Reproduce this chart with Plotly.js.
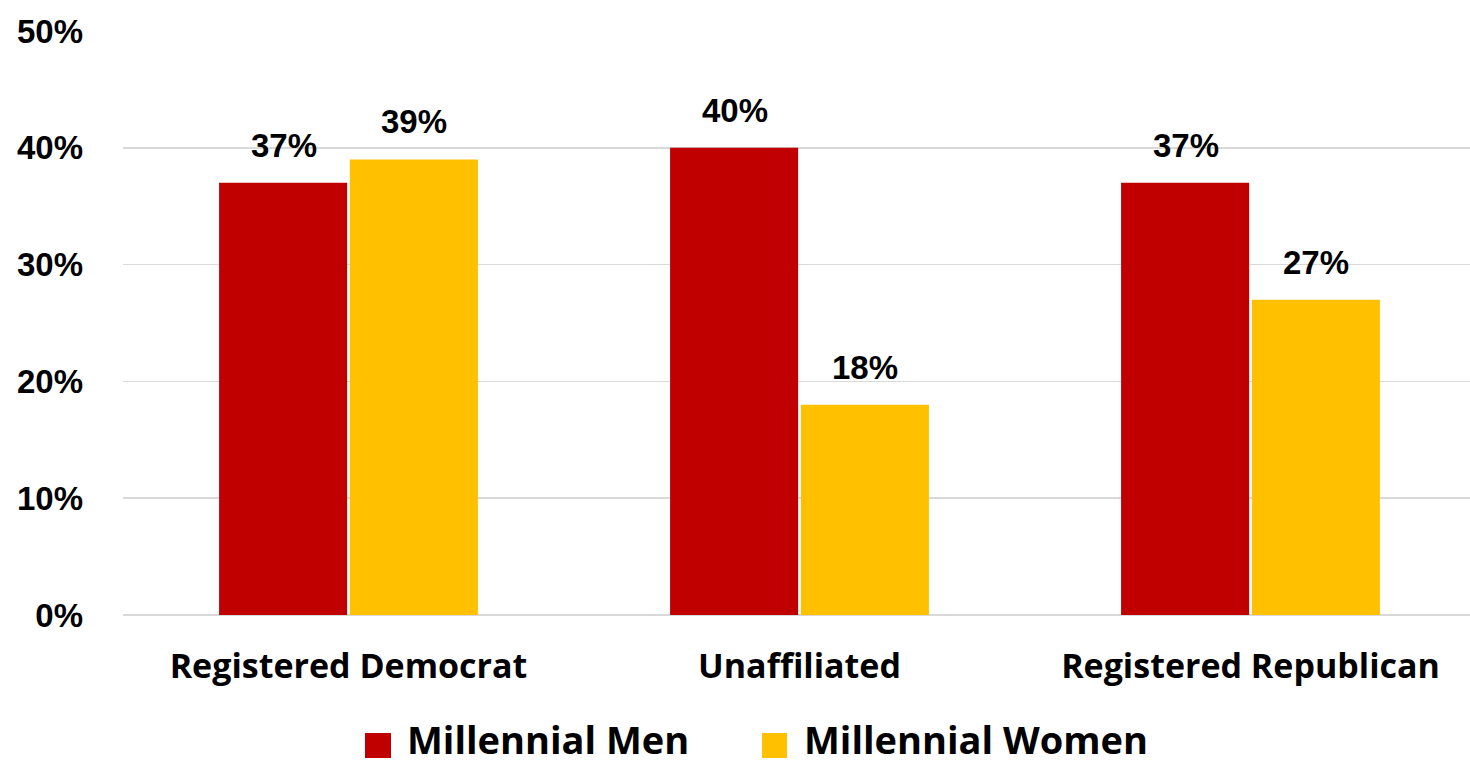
<!DOCTYPE html>
<html><head><meta charset="utf-8">
<script src="https://cdn.plot.ly/plotly-3.0.1.min.js"></script>
<style>html,body{margin:0;padding:0;background:#fff;overflow:hidden}#chart{width:1476px;height:764px}</style>
</head><body><div id="chart"></div>
<script>
const categories = ["Registered Democrat", "Unaffiliated", "Registered Republican"];
const menValues = [37, 40, 37];
const womenValues = [39, 18, 27];
const seriesNames = ["Millennial Men", "Millennial Women"];
const seriesColors = ["#C00000", "#FFC000"];
const tickValues = [0, 10, 20, 30, 40, 50];
const tickLabels = ["0%", "10%", "20%", "30%", "40%", "50%"];

const W = 1476, H = 764, L = 123, R = 0, T = 31, B = 149;
const PW = W - L - R, PH = H - T - B;
const px = x => (x - L) / PW;
const py = y => (H - B - y) / PH;

const labelFont = "'Open Sans', 'DejaVu Sans', sans-serif";
const numFont = "'Liberation Sans', Arial, sans-serif";
const series = [menValues, womenValues];

const traces = series.map((vals, i) => ({
  type: 'bar', name: seriesNames[i], x: categories, y: vals,
  marker: {color: seriesColors[i]}, showlegend: false, hoverinfo: 'none'
}));

const annotations = [];
series.forEach((vals, i) => {
  vals.forEach((v, j) => {
    annotations.push({
      x: categories[j], y: v, xref: 'x', yref: 'y',
      xshift: i === 0 ? -65 : 65, yshift: 17,
      xanchor: 'center', yanchor: 'bottom', showarrow: false,
      text: '<b>' + v + '%</b>',
      font: {family: numFont, size: 33, color: '#000'}
    });
  });
});

// custom legend
const legendItems = [
  {sq: [365, 391], tx: 405},
  {sq: [762, 787], tx: 802}
];
const shapes = [];
legendItems.forEach((it, i) => {
  shapes.push({type: 'rect', xref: 'paper', yref: 'paper',
    x0: px(it.sq[0]), x1: px(it.sq[1]), y0: py(758), y1: py(733),
    fillcolor: seriesColors[i], line: {width: 0}});
  annotations.push({xref: 'paper', yref: 'paper', x: px(it.tx), y: py(739),
    xanchor: 'left', yanchor: 'middle', showarrow: false,
    text: '<b>' + seriesNames[i] + '</b>',
    font: {family: labelFont, size: 38, color: '#000'}});
});

const layout = {
  width: W, height: H,
  margin: {l: L, r: R, t: T, b: B},
  paper_bgcolor: '#fff', plot_bgcolor: '#fff',
  bargap: 0.42, bargroupgap: 0.021,
  font: {family: labelFont, color: '#000'},
  showlegend: false,
  annotations: annotations, shapes: shapes,
  xaxis: {tickfont: {size: 34, family: labelFont, color: '#000', weight: 'bold'},
          showline: false, ticks: '', ticklabelstandoff: 28},
  yaxis: {range: [0, 50], tickvals: tickValues, ticktext: tickLabels,
          showgrid: true, gridcolor: '#d9d9d9', gridwidth: 1.5,
          zeroline: true, zerolinecolor: '#d9d9d9', zerolinewidth: 1.5,
          tickfont: {size: 33, family: numFont, color: '#000', weight: 'bold'},
          ticklabelstandoff: 39}
};
Plotly.newPlot('chart', traces, layout, {displayModeBar: false, staticPlot: true});
</script></body></html>
